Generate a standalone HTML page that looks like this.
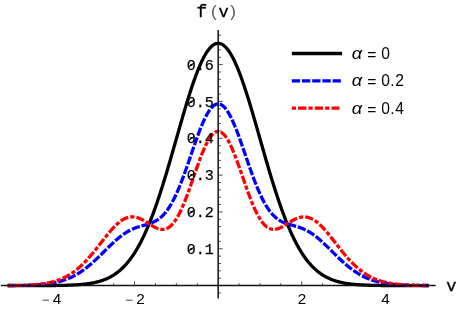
<!DOCTYPE html>
<html><head><meta charset="utf-8"><title>f(v)</title>
<style>
html,body{margin:0;padding:0;background:#fff;}
svg{display:block;will-change:transform;}
.mono{font-family:"Liberation Mono",monospace;font-size:15px;fill:#000;stroke:#000;stroke-width:0.25px;}
.sans{font-family:"Liberation Sans",sans-serif;font-size:15.3px;fill:#000;}
.leg{font-family:"Liberation Sans",sans-serif;font-size:15.6px;fill:#000;}
.title{font-family:"Liberation Mono",monospace;font-size:17px;fill:#000;stroke:#000;stroke-width:0.3px;}
.paren{font-family:"Liberation Sans",sans-serif;font-size:17px;fill:#555;}
</style></head>
<body>
<svg width="457" height="310" viewBox="0 0 457 310">
<rect width="457" height="310" fill="#fff"/>
<g fill="none" stroke-width="3.3" stroke-linejoin="round">
<path stroke="#000" d="M7.68,285.60 L8.21,285.60 L8.73,285.60 L9.26,285.60 L9.79,285.60 L10.31,285.60 L10.84,285.60 L11.36,285.60 L11.89,285.60 L12.42,285.60 L12.94,285.60 L13.47,285.60 L14.00,285.60 L14.52,285.60 L15.05,285.60 L15.58,285.60 L16.10,285.60 L16.63,285.60 L17.15,285.60 L17.68,285.60 L18.21,285.60 L18.73,285.60 L19.26,285.60 L19.79,285.60 L20.31,285.60 L20.84,285.60 L21.37,285.60 L21.89,285.60 L22.42,285.60 L22.94,285.60 L23.47,285.60 L24.00,285.60 L24.52,285.59 L25.05,285.59 L25.58,285.59 L26.10,285.59 L26.63,285.59 L27.16,285.59 L27.68,285.59 L28.21,285.59 L28.74,285.59 L29.26,285.59 L29.79,285.59 L30.31,285.59 L30.84,285.59 L31.37,285.59 L31.89,285.59 L32.42,285.59 L32.95,285.59 L33.47,285.59 L34.00,285.59 L34.53,285.58 L35.05,285.58 L35.58,285.58 L36.10,285.58 L36.63,285.58 L37.16,285.58 L37.68,285.58 L38.21,285.58 L38.74,285.58 L39.26,285.57 L39.79,285.57 L40.32,285.57 L40.84,285.57 L41.37,285.57 L41.89,285.57 L42.42,285.57 L42.95,285.56 L43.47,285.56 L44.00,285.56 L44.53,285.56 L45.05,285.55 L45.58,285.55 L46.11,285.55 L46.63,285.55 L47.16,285.54 L47.68,285.54 L48.21,285.54 L48.74,285.54 L49.26,285.53 L49.79,285.53 L50.32,285.52 L50.84,285.52 L51.37,285.52 L51.90,285.51 L52.42,285.51 L52.95,285.50 L53.47,285.50 L54.00,285.49 L54.53,285.49 L55.05,285.48 L55.58,285.48 L56.11,285.47 L56.63,285.46 L57.16,285.46 L57.69,285.45 L58.21,285.44 L58.74,285.43 L59.26,285.43 L59.79,285.42 L60.32,285.41 L60.84,285.40 L61.37,285.39 L61.90,285.38 L62.42,285.37 L62.95,285.36 L63.48,285.34 L64.00,285.33 L64.53,285.32 L65.05,285.31 L65.58,285.29 L66.11,285.28 L66.63,285.26 L67.16,285.25 L67.69,285.23 L68.21,285.21 L68.74,285.20 L69.27,285.18 L69.79,285.16 L70.32,285.14 L70.85,285.12 L71.37,285.10 L71.90,285.07 L72.42,285.05 L72.95,285.02 L73.48,285.00 L74.00,284.97 L74.53,284.94 L75.06,284.91 L75.58,284.88 L76.11,284.85 L76.64,284.82 L77.16,284.79 L77.69,284.75 L78.21,284.71 L78.74,284.68 L79.27,284.64 L79.79,284.60 L80.32,284.55 L80.85,284.51 L81.37,284.46 L81.90,284.41 L82.43,284.37 L82.95,284.31 L83.48,284.26 L84.00,284.20 L84.53,284.15 L85.06,284.09 L85.58,284.03 L86.11,283.96 L86.64,283.90 L87.16,283.83 L87.69,283.75 L88.22,283.68 L88.74,283.60 L89.27,283.53 L89.79,283.44 L90.32,283.36 L90.85,283.27 L91.37,283.18 L91.90,283.09 L92.43,282.99 L92.95,282.89 L93.48,282.78 L94.01,282.68 L94.53,282.56 L95.06,282.45 L95.58,282.33 L96.11,282.21 L96.64,282.08 L97.16,281.95 L97.69,281.81 L98.22,281.67 L98.74,281.53 L99.27,281.38 L99.80,281.23 L100.32,281.07 L100.85,280.90 L101.37,280.74 L101.90,280.56 L102.43,280.38 L102.95,280.20 L103.48,280.01 L104.01,279.81 L104.53,279.61 L105.06,279.40 L105.59,279.19 L106.11,278.96 L106.64,278.74 L107.16,278.50 L107.69,278.26 L108.22,278.01 L108.74,277.76 L109.27,277.50 L109.80,277.23 L110.32,276.95 L110.85,276.66 L111.38,276.37 L111.90,276.07 L112.43,275.76 L112.96,275.44 L113.48,275.11 L114.01,274.78 L114.53,274.43 L115.06,274.08 L115.59,273.72 L116.11,273.34 L116.64,272.96 L117.17,272.57 L117.69,272.17 L118.22,271.76 L118.75,271.33 L119.27,270.90 L119.80,270.46 L120.32,270.00 L120.85,269.54 L121.38,269.06 L121.90,268.57 L122.43,268.07 L122.96,267.56 L123.48,267.03 L124.01,266.50 L124.54,265.95 L125.06,265.39 L125.59,264.81 L126.11,264.23 L126.64,263.63 L127.17,263.02 L127.69,262.39 L128.22,261.75 L128.75,261.09 L129.27,260.43 L129.80,259.74 L130.33,259.05 L130.85,258.34 L131.38,257.61 L131.90,256.87 L132.43,256.12 L132.96,255.35 L133.48,254.56 L134.01,253.76 L134.54,252.95 L135.06,252.12 L135.59,251.27 L136.12,250.40 L136.64,249.53 L137.17,248.63 L137.69,247.72 L138.22,246.79 L138.75,245.85 L139.27,244.89 L139.80,243.91 L140.33,242.92 L140.85,241.91 L141.38,240.88 L141.91,239.84 L142.43,238.77 L142.96,237.70 L143.48,236.60 L144.01,235.49 L144.54,234.36 L145.06,233.21 L145.59,232.05 L146.12,230.87 L146.64,229.67 L147.17,228.46 L147.70,227.22 L148.22,225.97 L148.75,224.71 L149.27,223.42 L149.80,222.12 L150.33,220.81 L150.85,219.47 L151.38,218.12 L151.91,216.75 L152.43,215.37 L152.96,213.97 L153.49,212.55 L154.01,211.12 L154.54,209.67 L155.07,208.20 L155.59,206.72 L156.12,205.23 L156.64,203.72 L157.17,202.19 L157.70,200.65 L158.22,199.09 L158.75,197.52 L159.28,195.93 L159.80,194.33 L160.33,192.72 L160.86,191.09 L161.38,189.45 L161.91,187.80 L162.43,186.13 L162.96,184.46 L163.49,182.77 L164.01,181.06 L164.54,179.35 L165.07,177.63 L165.59,175.89 L166.12,174.15 L166.65,172.39 L167.17,170.63 L167.70,168.86 L168.22,167.07 L168.75,165.28 L169.28,163.49 L169.80,161.68 L170.33,159.87 L170.86,158.06 L171.38,156.23 L171.91,154.40 L172.44,152.57 L172.96,150.73 L173.49,148.89 L174.01,147.05 L174.54,145.20 L175.07,143.35 L175.59,141.51 L176.12,139.65 L176.65,137.80 L177.17,135.95 L177.70,134.10 L178.23,132.25 L178.75,130.41 L179.28,128.56 L179.80,126.72 L180.33,124.89 L180.86,123.05 L181.38,121.23 L181.91,119.41 L182.44,117.59 L182.96,115.79 L183.49,113.99 L184.02,112.20 L184.54,110.41 L185.07,108.64 L185.59,106.88 L186.12,105.13 L186.65,103.39 L187.17,101.67 L187.70,99.95 L188.23,98.25 L188.75,96.57 L189.28,94.90 L189.81,93.24 L190.33,91.61 L190.86,89.99 L191.38,88.38 L191.91,86.80 L192.44,85.23 L192.96,83.69 L193.49,82.16 L194.02,80.66 L194.54,79.18 L195.07,77.72 L195.60,76.28 L196.12,74.87 L196.65,73.48 L197.18,72.11 L197.70,70.77 L198.23,69.46 L198.75,68.17 L199.28,66.91 L199.81,65.68 L200.33,64.48 L200.86,63.30 L201.39,62.15 L201.91,61.04 L202.44,59.95 L202.97,58.89 L203.49,57.87 L204.02,56.88 L204.54,55.92 L205.07,54.99 L205.60,54.09 L206.12,53.23 L206.65,52.40 L207.18,51.61 L207.70,50.85 L208.23,50.13 L208.76,49.44 L209.28,48.79 L209.81,48.17 L210.33,47.59 L210.86,47.04 L211.39,46.53 L211.91,46.06 L212.44,45.63 L212.97,45.23 L213.49,44.87 L214.02,44.55 L214.55,44.27 L215.07,44.02 L215.60,43.81 L216.12,43.65 L216.65,43.51 L217.18,43.42 L217.70,43.37 L218.23,43.35 L218.76,43.38 L219.28,43.44 L219.81,43.54 L220.34,43.67 L220.86,43.85 L221.39,44.07 L221.91,44.32 L222.44,44.61 L222.97,44.94 L223.49,45.30 L224.02,45.71 L224.55,46.15 L225.07,46.63 L225.60,47.14 L226.13,47.69 L226.65,48.28 L227.18,48.91 L227.70,49.57 L228.23,50.26 L228.76,50.99 L229.28,51.76 L229.81,52.56 L230.34,53.39 L230.86,54.26 L231.39,55.16 L231.92,56.10 L232.44,57.06 L232.97,58.06 L233.49,59.09 L234.02,60.15 L234.55,61.25 L235.07,62.37 L235.60,63.52 L236.13,64.70 L236.65,65.91 L237.18,67.15 L237.71,68.41 L238.23,69.71 L238.76,71.03 L239.29,72.37 L239.81,73.74 L240.34,75.13 L240.86,76.55 L241.39,77.99 L241.92,79.46 L242.44,80.94 L242.97,82.45 L243.50,83.98 L244.02,85.53 L244.55,87.10 L245.08,88.69 L245.60,90.29 L246.13,91.92 L246.65,93.56 L247.18,95.21 L247.71,96.89 L248.23,98.57 L248.76,100.28 L249.29,101.99 L249.81,103.72 L250.34,105.46 L250.87,107.21 L251.39,108.98 L251.92,110.75 L252.44,112.54 L252.97,114.33 L253.50,116.13 L254.02,117.94 L254.55,119.75 L255.08,121.57 L255.60,123.40 L256.13,125.24 L256.66,127.07 L257.18,128.91 L257.71,130.76 L258.23,132.60 L258.76,134.45 L259.29,136.30 L259.81,138.15 L260.34,140.01 L260.87,141.86 L261.39,143.71 L261.92,145.55 L262.45,147.40 L262.97,149.24 L263.50,151.08 L264.02,152.92 L264.55,154.75 L265.08,156.58 L265.60,158.40 L266.13,160.22 L266.66,162.03 L267.18,163.83 L267.71,165.63 L268.24,167.41 L268.76,169.19 L269.29,170.96 L269.81,172.73 L270.34,174.48 L270.87,176.22 L271.39,177.95 L271.92,179.68 L272.45,181.39 L272.97,183.09 L273.50,184.77 L274.03,186.45 L274.55,188.11 L275.08,189.76 L275.60,191.40 L276.13,193.03 L276.66,194.64 L277.18,196.24 L277.71,197.82 L278.24,199.39 L278.76,200.94 L279.29,202.48 L279.82,204.00 L280.34,205.51 L280.87,207.01 L281.40,208.48 L281.92,209.95 L282.45,211.39 L282.97,212.82 L283.50,214.24 L284.03,215.63 L284.55,217.01 L285.08,218.38 L285.61,219.73 L286.13,221.06 L286.66,222.37 L287.19,223.67 L287.71,224.95 L288.24,226.21 L288.76,227.46 L289.29,228.69 L289.82,229.90 L290.34,231.09 L290.87,232.27 L291.40,233.43 L291.92,234.58 L292.45,235.70 L292.98,236.81 L293.50,237.90 L294.03,238.98 L294.55,240.03 L295.08,241.08 L295.61,242.10 L296.13,243.11 L296.66,244.10 L297.19,245.07 L297.71,246.03 L298.24,246.97 L298.77,247.89 L299.29,248.80 L299.82,249.69 L300.34,250.57 L300.87,251.43 L301.40,252.27 L301.92,253.10 L302.45,253.92 L302.98,254.71 L303.50,255.50 L304.03,256.26 L304.56,257.01 L305.08,257.75 L305.61,258.47 L306.13,259.18 L306.66,259.88 L307.19,260.55 L307.71,261.22 L308.24,261.87 L308.77,262.51 L309.29,263.13 L309.82,263.74 L310.35,264.34 L310.87,264.93 L311.40,265.50 L311.92,266.06 L312.45,266.60 L312.98,267.14 L313.50,267.66 L314.03,268.17 L314.56,268.67 L315.08,269.15 L315.61,269.63 L316.14,270.09 L316.66,270.54 L317.19,270.98 L317.71,271.42 L318.24,271.84 L318.77,272.25 L319.29,272.65 L319.82,273.04 L320.35,273.42 L320.87,273.79 L321.40,274.15 L321.93,274.50 L322.45,274.84 L322.98,275.18 L323.51,275.50 L324.03,275.82 L324.56,276.13 L325.08,276.43 L325.61,276.72 L326.14,277.00 L326.66,277.28 L327.19,277.55 L327.72,277.81 L328.24,278.06 L328.77,278.31 L329.30,278.55 L329.82,278.78 L330.35,279.01 L330.87,279.23 L331.40,279.44 L331.93,279.65 L332.45,279.85 L332.98,280.04 L333.51,280.23 L334.03,280.42 L334.56,280.60 L335.09,280.77 L335.61,280.94 L336.14,281.10 L336.66,281.26 L337.19,281.41 L337.72,281.56 L338.24,281.70 L338.77,281.84 L339.30,281.97 L339.82,282.10 L340.35,282.23 L340.88,282.35 L341.40,282.47 L341.93,282.59 L342.45,282.70 L342.98,282.80 L343.51,282.91 L344.03,283.01 L344.56,283.10 L345.09,283.20 L345.61,283.29 L346.14,283.37 L346.67,283.46 L347.19,283.54 L347.72,283.62 L348.24,283.70 L348.77,283.77 L349.30,283.84 L349.82,283.91 L350.35,283.97 L350.88,284.04 L351.40,284.10 L351.93,284.16 L352.46,284.22 L352.98,284.27 L353.51,284.32 L354.03,284.37 L354.56,284.42 L355.09,284.47 L355.61,284.52 L356.14,284.56 L356.67,284.60 L357.19,284.64 L357.72,284.68 L358.25,284.72 L358.77,284.76 L359.30,284.79 L359.82,284.83 L360.35,284.86 L360.88,284.89 L361.40,284.92 L361.93,284.95 L362.46,284.98 L362.98,285.00 L363.51,285.03 L364.04,285.05 L364.56,285.08 L365.09,285.10 L365.62,285.12 L366.14,285.14 L366.67,285.16 L367.19,285.18 L367.72,285.20 L368.25,285.22 L368.77,285.23 L369.30,285.25 L369.83,285.27 L370.35,285.28 L370.88,285.30 L371.41,285.31 L371.93,285.32 L372.46,285.33 L372.98,285.35 L373.51,285.36 L374.04,285.37 L374.56,285.38 L375.09,285.39 L375.62,285.40 L376.14,285.41 L376.67,285.42 L377.20,285.43 L377.72,285.43 L378.25,285.44 L378.77,285.45 L379.30,285.46 L379.83,285.46 L380.35,285.47 L380.88,285.48 L381.41,285.48 L381.93,285.49 L382.46,285.49 L382.99,285.50 L383.51,285.50 L384.04,285.51 L384.56,285.51 L385.09,285.52 L385.62,285.52 L386.14,285.53 L386.67,285.53 L387.20,285.53 L387.72,285.54 L388.25,285.54 L388.78,285.54 L389.30,285.54 L389.83,285.55 L390.35,285.55 L390.88,285.55 L391.41,285.56 L391.93,285.56 L392.46,285.56 L392.99,285.56 L393.51,285.56 L394.04,285.57 L394.57,285.57 L395.09,285.57 L395.62,285.57 L396.14,285.57 L396.67,285.57 L397.20,285.58 L397.72,285.58 L398.25,285.58 L398.78,285.58 L399.30,285.58 L399.83,285.58 L400.36,285.58 L400.88,285.58 L401.41,285.58 L401.93,285.58 L402.46,285.59 L402.99,285.59 L403.51,285.59 L404.04,285.59 L404.57,285.59 L405.09,285.59 L405.62,285.59 L406.15,285.59 L406.67,285.59 L407.20,285.59 L407.73,285.59 L408.25,285.59 L408.78,285.59 L409.30,285.59 L409.83,285.59 L410.36,285.59 L410.88,285.59 L411.41,285.59 L411.94,285.59 L412.46,285.60 L412.99,285.60 L413.52,285.60 L414.04,285.60 L414.57,285.60 L415.09,285.60 L415.62,285.60 L416.15,285.60 L416.67,285.60 L417.20,285.60 L417.73,285.60 L418.25,285.60 L418.78,285.60 L419.31,285.60 L419.83,285.60 L420.36,285.60 L420.88,285.60 L421.41,285.60 L421.94,285.60 L422.46,285.60 L422.99,285.60 L423.52,285.60 L424.04,285.60 L424.57,285.60 L425.10,285.60 L425.62,285.60 L426.15,285.60 L426.67,285.60 L427.20,285.60 L427.73,285.60 L428.25,285.60 L428.78,285.60"/>
<path stroke="#00f" stroke-dasharray="8.3 1.869" stroke-dashoffset="0" d="M7.68,285.54 L8.21,285.54 L8.73,285.54 L9.26,285.53 L9.79,285.53 L10.31,285.53 L10.84,285.52 L11.36,285.52 L11.89,285.52 L12.42,285.51 L12.94,285.51 L13.47,285.50 L14.00,285.50 L14.52,285.49 L15.05,285.48 L15.58,285.48 L16.10,285.47 L16.63,285.47 L17.15,285.46 L17.68,285.45 L18.21,285.44 L18.73,285.44 L19.26,285.43 L19.79,285.42 L20.31,285.41 L20.84,285.40 L21.37,285.39 L21.89,285.38 L22.42,285.37 L22.94,285.36 L23.47,285.35 L24.00,285.33 L24.52,285.32 L25.05,285.31 L25.58,285.29 L26.10,285.28 L26.63,285.26 L27.16,285.25 L27.68,285.23 L28.21,285.22 L28.74,285.20 L29.26,285.18 L29.79,285.16 L30.31,285.14 L30.84,285.12 L31.37,285.10 L31.89,285.07 L32.42,285.05 L32.95,285.02 L33.47,285.00 L34.00,284.97 L34.53,284.94 L35.05,284.91 L35.58,284.88 L36.10,284.85 L36.63,284.82 L37.16,284.79 L37.68,284.75 L38.21,284.71 L38.74,284.68 L39.26,284.64 L39.79,284.59 L40.32,284.55 L40.84,284.51 L41.37,284.46 L41.89,284.42 L42.42,284.37 L42.95,284.32 L43.47,284.26 L44.00,284.21 L44.53,284.15 L45.05,284.09 L45.58,284.03 L46.11,283.97 L46.63,283.90 L47.16,283.84 L47.68,283.77 L48.21,283.70 L48.74,283.62 L49.26,283.54 L49.79,283.47 L50.32,283.38 L50.84,283.30 L51.37,283.21 L51.90,283.12 L52.42,283.03 L52.95,282.93 L53.47,282.83 L54.00,282.73 L54.53,282.63 L55.05,282.52 L55.58,282.41 L56.11,282.29 L56.63,282.17 L57.16,282.05 L57.69,281.93 L58.21,281.80 L58.74,281.66 L59.26,281.53 L59.79,281.39 L60.32,281.24 L60.84,281.09 L61.37,280.94 L61.90,280.78 L62.42,280.62 L62.95,280.46 L63.48,280.29 L64.00,280.11 L64.53,279.93 L65.05,279.75 L65.58,279.56 L66.11,279.37 L66.63,279.17 L67.16,278.97 L67.69,278.76 L68.21,278.55 L68.74,278.33 L69.27,278.10 L69.79,277.88 L70.32,277.64 L70.85,277.40 L71.37,277.16 L71.90,276.91 L72.42,276.66 L72.95,276.39 L73.48,276.13 L74.00,275.86 L74.53,275.58 L75.06,275.30 L75.58,275.01 L76.11,274.71 L76.64,274.41 L77.16,274.11 L77.69,273.80 L78.21,273.48 L78.74,273.15 L79.27,272.82 L79.79,272.49 L80.32,272.15 L80.85,271.80 L81.37,271.45 L81.90,271.09 L82.43,270.73 L82.95,270.36 L83.48,269.98 L84.00,269.60 L84.53,269.21 L85.06,268.82 L85.58,268.42 L86.11,268.01 L86.64,267.61 L87.16,267.19 L87.69,266.77 L88.22,266.34 L88.74,265.91 L89.27,265.48 L89.79,265.04 L90.32,264.59 L90.85,264.14 L91.37,263.68 L91.90,263.22 L92.43,262.76 L92.95,262.29 L93.48,261.81 L94.01,261.34 L94.53,260.86 L95.06,260.37 L95.58,259.88 L96.11,259.39 L96.64,258.89 L97.16,258.39 L97.69,257.89 L98.22,257.39 L98.74,256.88 L99.27,256.37 L99.80,255.86 L100.32,255.34 L100.85,254.83 L101.37,254.31 L101.90,253.79 L102.43,253.27 L102.95,252.75 L103.48,252.23 L104.01,251.71 L104.53,251.19 L105.06,250.66 L105.59,250.14 L106.11,249.62 L106.64,249.10 L107.16,248.58 L107.69,248.06 L108.22,247.54 L108.74,247.03 L109.27,246.51 L109.80,246.00 L110.32,245.49 L110.85,244.99 L111.38,244.48 L111.90,243.98 L112.43,243.49 L112.96,243.00 L113.48,242.51 L114.01,242.02 L114.53,241.54 L115.06,241.07 L115.59,240.60 L116.11,240.13 L116.64,239.67 L117.17,239.22 L117.69,238.77 L118.22,238.33 L118.75,237.89 L119.27,237.46 L119.80,237.04 L120.32,236.62 L120.85,236.21 L121.38,235.81 L121.90,235.41 L122.43,235.03 L122.96,234.65 L123.48,234.27 L124.01,233.91 L124.54,233.55 L125.06,233.20 L125.59,232.86 L126.11,232.53 L126.64,232.20 L127.17,231.88 L127.69,231.57 L128.22,231.27 L128.75,230.98 L129.27,230.69 L129.80,230.42 L130.33,230.15 L130.85,229.88 L131.38,229.63 L131.90,229.38 L132.43,229.14 L132.96,228.91 L133.48,228.69 L134.01,228.47 L134.54,228.26 L135.06,228.06 L135.59,227.86 L136.12,227.67 L136.64,227.48 L137.17,227.30 L137.69,227.12 L138.22,226.95 L138.75,226.79 L139.27,226.62 L139.80,226.47 L140.33,226.31 L140.85,226.16 L141.38,226.01 L141.91,225.86 L142.43,225.72 L142.96,225.57 L143.48,225.43 L144.01,225.29 L144.54,225.14 L145.06,225.00 L145.59,224.85 L146.12,224.71 L146.64,224.56 L147.17,224.40 L147.70,224.25 L148.22,224.08 L148.75,223.92 L149.27,223.75 L149.80,223.57 L150.33,223.39 L150.85,223.20 L151.38,223.00 L151.91,222.79 L152.43,222.57 L152.96,222.34 L153.49,222.11 L154.01,221.86 L154.54,221.60 L155.07,221.33 L155.59,221.04 L156.12,220.74 L156.64,220.43 L157.17,220.10 L157.70,219.75 L158.22,219.39 L158.75,219.02 L159.28,218.62 L159.80,218.21 L160.33,217.78 L160.86,217.33 L161.38,216.86 L161.91,216.37 L162.43,215.86 L162.96,215.33 L163.49,214.78 L164.01,214.21 L164.54,213.61 L165.07,212.99 L165.59,212.35 L166.12,211.69 L166.65,211.00 L167.17,210.28 L167.70,209.55 L168.22,208.79 L168.75,208.00 L169.28,207.19 L169.80,206.35 L170.33,205.49 L170.86,204.61 L171.38,203.70 L171.91,202.76 L172.44,201.80 L172.96,200.81 L173.49,199.80 L174.01,198.77 L174.54,197.71 L175.07,196.62 L175.59,195.51 L176.12,194.38 L176.65,193.22 L177.17,192.05 L177.70,190.84 L178.23,189.62 L178.75,188.37 L179.28,187.10 L179.80,185.82 L180.33,184.51 L180.86,183.18 L181.38,181.83 L181.91,180.47 L182.44,179.09 L182.96,177.69 L183.49,176.27 L184.02,174.84 L184.54,173.40 L185.07,171.94 L185.59,170.47 L186.12,168.99 L186.65,167.50 L187.17,166.00 L187.70,164.49 L188.23,162.98 L188.75,161.45 L189.28,159.93 L189.81,158.40 L190.33,156.87 L190.86,155.33 L191.38,153.80 L191.91,152.26 L192.44,150.73 L192.96,149.20 L193.49,147.68 L194.02,146.17 L194.54,144.66 L195.07,143.16 L195.60,141.67 L196.12,140.19 L196.65,138.72 L197.18,137.27 L197.70,135.83 L198.23,134.41 L198.75,133.01 L199.28,131.63 L199.81,130.26 L200.33,128.92 L200.86,127.61 L201.39,126.31 L201.91,125.04 L202.44,123.80 L202.97,122.59 L203.49,121.40 L204.02,120.25 L204.54,119.13 L205.07,118.04 L205.60,116.98 L206.12,115.96 L206.65,114.97 L207.18,114.03 L207.70,113.11 L208.23,112.24 L208.76,111.41 L209.28,110.61 L209.81,109.86 L210.33,109.15 L210.86,108.48 L211.39,107.86 L211.91,107.28 L212.44,106.74 L212.97,106.25 L213.49,105.81 L214.02,105.41 L214.55,105.06 L215.07,104.75 L215.60,104.49 L216.12,104.28 L216.65,104.12 L217.18,104.00 L217.70,103.93 L218.23,103.91 L218.76,103.94 L219.28,104.02 L219.81,104.14 L220.34,104.32 L220.86,104.54 L221.39,104.80 L221.91,105.12 L222.44,105.48 L222.97,105.89 L223.49,106.34 L224.02,106.84 L224.55,107.39 L225.07,107.97 L225.60,108.61 L226.13,109.28 L226.65,110.00 L227.18,110.76 L227.70,111.56 L228.23,112.40 L228.76,113.28 L229.28,114.20 L229.81,115.16 L230.34,116.15 L230.86,117.18 L231.39,118.24 L231.92,119.34 L232.44,120.47 L232.97,121.63 L233.49,122.82 L234.02,124.04 L234.55,125.28 L235.07,126.56 L235.60,127.85 L236.13,129.18 L236.65,130.52 L237.18,131.89 L237.71,133.28 L238.23,134.68 L238.76,136.10 L239.29,137.54 L239.81,139.00 L240.34,140.47 L240.86,141.95 L241.39,143.44 L241.92,144.94 L242.44,146.45 L242.97,147.97 L243.50,149.49 L244.02,151.02 L244.55,152.55 L245.08,154.09 L245.60,155.62 L246.13,157.16 L246.65,158.69 L247.18,160.22 L247.71,161.74 L248.23,163.26 L248.76,164.78 L249.29,166.29 L249.81,167.78 L250.34,169.27 L250.87,170.75 L251.39,172.22 L251.92,173.67 L252.44,175.12 L252.97,176.54 L253.50,177.95 L254.02,179.35 L254.55,180.73 L255.08,182.09 L255.60,183.43 L256.13,184.76 L256.66,186.06 L257.18,187.35 L257.71,188.61 L258.23,189.85 L258.76,191.07 L259.29,192.27 L259.81,193.45 L260.34,194.60 L260.87,195.73 L261.39,196.83 L261.92,197.91 L262.45,198.97 L262.97,200.00 L263.50,201.00 L264.02,201.98 L264.55,202.94 L265.08,203.87 L265.60,204.78 L266.13,205.66 L266.66,206.51 L267.18,207.35 L267.71,208.15 L268.24,208.93 L268.76,209.69 L269.29,210.42 L269.81,211.13 L270.34,211.81 L270.87,212.47 L271.39,213.11 L271.92,213.73 L272.45,214.32 L272.97,214.89 L273.50,215.44 L274.03,215.96 L274.55,216.47 L275.08,216.95 L275.60,217.42 L276.13,217.86 L276.66,218.29 L277.18,218.70 L277.71,219.09 L278.24,219.46 L278.76,219.82 L279.29,220.16 L279.82,220.49 L280.34,220.80 L280.87,221.10 L281.40,221.38 L281.92,221.65 L282.45,221.91 L282.97,222.15 L283.50,222.39 L284.03,222.61 L284.55,222.83 L285.08,223.03 L285.61,223.23 L286.13,223.42 L286.66,223.60 L287.19,223.78 L287.71,223.95 L288.24,224.12 L288.76,224.28 L289.29,224.43 L289.82,224.58 L290.34,224.73 L290.87,224.88 L291.40,225.03 L291.92,225.17 L292.45,225.31 L292.98,225.46 L293.50,225.60 L294.03,225.75 L294.55,225.89 L295.08,226.04 L295.61,226.19 L296.13,226.34 L296.66,226.50 L297.19,226.65 L297.71,226.82 L298.24,226.98 L298.77,227.16 L299.29,227.33 L299.82,227.51 L300.34,227.70 L300.87,227.89 L301.40,228.09 L301.92,228.30 L302.45,228.51 L302.98,228.73 L303.50,228.96 L304.03,229.19 L304.56,229.43 L305.08,229.68 L305.61,229.93 L306.13,230.20 L306.66,230.47 L307.19,230.75 L307.71,231.03 L308.24,231.33 L308.77,231.63 L309.29,231.94 L309.82,232.26 L310.35,232.59 L310.87,232.92 L311.40,233.27 L311.92,233.62 L312.45,233.98 L312.98,234.34 L313.50,234.72 L314.03,235.10 L314.56,235.49 L315.08,235.89 L315.61,236.29 L316.14,236.70 L316.66,237.12 L317.19,237.54 L317.71,237.97 L318.24,238.41 L318.77,238.85 L319.29,239.30 L319.82,239.76 L320.35,240.22 L320.87,240.69 L321.40,241.16 L321.93,241.63 L322.45,242.11 L322.98,242.60 L323.51,243.09 L324.03,243.58 L324.56,244.08 L325.08,244.58 L325.61,245.08 L326.14,245.59 L326.66,246.10 L327.19,246.61 L327.72,247.12 L328.24,247.64 L328.77,248.16 L329.30,248.68 L329.82,249.20 L330.35,249.72 L330.87,250.24 L331.40,250.76 L331.93,251.28 L332.45,251.81 L332.98,252.33 L333.51,252.85 L334.03,253.37 L334.56,253.89 L335.09,254.41 L335.61,254.93 L336.14,255.44 L336.66,255.96 L337.19,256.47 L337.72,256.98 L338.24,257.48 L338.77,257.99 L339.30,258.49 L339.82,258.99 L340.35,259.48 L340.88,259.97 L341.40,260.46 L341.93,260.95 L342.45,261.43 L342.98,261.91 L343.51,262.38 L344.03,262.85 L344.56,263.31 L345.09,263.77 L345.61,264.22 L346.14,264.67 L346.67,265.12 L347.19,265.56 L347.72,265.99 L348.24,266.42 L348.77,266.85 L349.30,267.27 L349.82,267.68 L350.35,268.09 L350.88,268.50 L351.40,268.89 L351.93,269.28 L352.46,269.67 L352.98,270.05 L353.51,270.43 L354.03,270.80 L354.56,271.16 L355.09,271.52 L355.61,271.87 L356.14,272.21 L356.67,272.55 L357.19,272.89 L357.72,273.22 L358.25,273.54 L358.77,273.86 L359.30,274.17 L359.82,274.47 L360.35,274.77 L360.88,275.06 L361.40,275.35 L361.93,275.63 L362.46,275.91 L362.98,276.18 L363.51,276.44 L364.04,276.70 L364.56,276.96 L365.09,277.21 L365.62,277.45 L366.14,277.69 L366.67,277.92 L367.19,278.15 L367.72,278.37 L368.25,278.59 L368.77,278.80 L369.30,279.00 L369.83,279.21 L370.35,279.40 L370.88,279.60 L371.41,279.78 L371.93,279.97 L372.46,280.14 L372.98,280.32 L373.51,280.49 L374.04,280.65 L374.56,280.81 L375.09,280.97 L375.62,281.12 L376.14,281.27 L376.67,281.41 L377.20,281.55 L377.72,281.69 L378.25,281.82 L378.77,281.95 L379.30,282.07 L379.83,282.20 L380.35,282.31 L380.88,282.43 L381.41,282.54 L381.93,282.65 L382.46,282.75 L382.99,282.85 L383.51,282.95 L384.04,283.05 L384.56,283.14 L385.09,283.23 L385.62,283.32 L386.14,283.40 L386.67,283.48 L387.20,283.56 L387.72,283.64 L388.25,283.71 L388.78,283.78 L389.30,283.85 L389.83,283.92 L390.35,283.98 L390.88,284.04 L391.41,284.10 L391.93,284.16 L392.46,284.22 L392.99,284.27 L393.51,284.32 L394.04,284.38 L394.57,284.42 L395.09,284.47 L395.62,284.52 L396.14,284.56 L396.67,284.60 L397.20,284.64 L397.72,284.68 L398.25,284.72 L398.78,284.76 L399.30,284.79 L399.83,284.83 L400.36,284.86 L400.88,284.89 L401.41,284.92 L401.93,284.95 L402.46,284.98 L402.99,285.00 L403.51,285.03 L404.04,285.05 L404.57,285.08 L405.09,285.10 L405.62,285.12 L406.15,285.14 L406.67,285.16 L407.20,285.18 L407.73,285.20 L408.25,285.22 L408.78,285.24 L409.30,285.25 L409.83,285.27 L410.36,285.28 L410.88,285.30 L411.41,285.31 L411.94,285.32 L412.46,285.34 L412.99,285.35 L413.52,285.36 L414.04,285.37 L414.57,285.38 L415.09,285.39 L415.62,285.40 L416.15,285.41 L416.67,285.42 L417.20,285.43 L417.73,285.44 L418.25,285.45 L418.78,285.45 L419.31,285.46 L419.83,285.47 L420.36,285.47 L420.88,285.48 L421.41,285.49 L421.94,285.49 L422.46,285.50 L422.99,285.50 L423.52,285.51 L424.04,285.51 L424.57,285.52 L425.10,285.52 L425.62,285.52 L426.15,285.53 L426.67,285.53 L427.20,285.54 L427.73,285.54 L428.25,285.54 L428.78,285.54"/>
<path stroke="#f00" stroke-dasharray="4.2 2.0 8.3 2.01" stroke-dashoffset="0" d="M7.68,285.52 L8.21,285.51 L8.73,285.51 L9.26,285.51 L9.79,285.50 L10.31,285.49 L10.84,285.49 L11.36,285.48 L11.89,285.48 L12.42,285.47 L12.94,285.46 L13.47,285.46 L14.00,285.45 L14.52,285.44 L15.05,285.43 L15.58,285.42 L16.10,285.42 L16.63,285.41 L17.15,285.40 L17.68,285.39 L18.21,285.37 L18.73,285.36 L19.26,285.35 L19.79,285.34 L20.31,285.33 L20.84,285.31 L21.37,285.30 L21.89,285.28 L22.42,285.27 L22.94,285.25 L23.47,285.23 L24.00,285.22 L24.52,285.20 L25.05,285.18 L25.58,285.16 L26.10,285.14 L26.63,285.12 L27.16,285.09 L27.68,285.07 L28.21,285.04 L28.74,285.02 L29.26,284.99 L29.79,284.96 L30.31,284.93 L30.84,284.90 L31.37,284.87 L31.89,284.84 L32.42,284.80 L32.95,284.77 L33.47,284.73 L34.00,284.69 L34.53,284.65 L35.05,284.61 L35.58,284.57 L36.10,284.52 L36.63,284.47 L37.16,284.42 L37.68,284.37 L38.21,284.32 L38.74,284.27 L39.26,284.21 L39.79,284.15 L40.32,284.09 L40.84,284.03 L41.37,283.96 L41.89,283.89 L42.42,283.82 L42.95,283.75 L43.47,283.67 L44.00,283.59 L44.53,283.51 L45.05,283.43 L45.58,283.34 L46.11,283.25 L46.63,283.16 L47.16,283.06 L47.68,282.96 L48.21,282.86 L48.74,282.75 L49.26,282.64 L49.79,282.53 L50.32,282.41 L50.84,282.29 L51.37,282.16 L51.90,282.04 L52.42,281.90 L52.95,281.77 L53.47,281.62 L54.00,281.48 L54.53,281.33 L55.05,281.17 L55.58,281.01 L56.11,280.85 L56.63,280.68 L57.16,280.50 L57.69,280.32 L58.21,280.14 L58.74,279.95 L59.26,279.75 L59.79,279.55 L60.32,279.35 L60.84,279.14 L61.37,278.92 L61.90,278.69 L62.42,278.46 L62.95,278.23 L63.48,277.99 L64.00,277.74 L64.53,277.48 L65.05,277.22 L65.58,276.95 L66.11,276.68 L66.63,276.40 L67.16,276.11 L67.69,275.82 L68.21,275.51 L68.74,275.21 L69.27,274.89 L69.79,274.57 L70.32,274.24 L70.85,273.90 L71.37,273.55 L71.90,273.20 L72.42,272.84 L72.95,272.47 L73.48,272.10 L74.00,271.71 L74.53,271.32 L75.06,270.92 L75.58,270.52 L76.11,270.10 L76.64,269.68 L77.16,269.25 L77.69,268.82 L78.21,268.37 L78.74,267.92 L79.27,267.46 L79.79,266.99 L80.32,266.51 L80.85,266.03 L81.37,265.53 L81.90,265.03 L82.43,264.53 L82.95,264.01 L83.48,263.49 L84.00,262.96 L84.53,262.42 L85.06,261.88 L85.58,261.33 L86.11,260.77 L86.64,260.20 L87.16,259.63 L87.69,259.05 L88.22,258.46 L88.74,257.87 L89.27,257.27 L89.79,256.67 L90.32,256.06 L90.85,255.44 L91.37,254.82 L91.90,254.19 L92.43,253.56 L92.95,252.93 L93.48,252.28 L94.01,251.64 L94.53,250.99 L95.06,250.33 L95.58,249.68 L96.11,249.02 L96.64,248.35 L97.16,247.69 L97.69,247.02 L98.22,246.35 L98.74,245.68 L99.27,245.00 L99.80,244.33 L100.32,243.65 L100.85,242.98 L101.37,242.30 L101.90,241.62 L102.43,240.95 L102.95,240.28 L103.48,239.60 L104.01,238.93 L104.53,238.27 L105.06,237.60 L105.59,236.94 L106.11,236.28 L106.64,235.63 L107.16,234.98 L107.69,234.33 L108.22,233.69 L108.74,233.06 L109.27,232.43 L109.80,231.81 L110.32,231.20 L110.85,230.59 L111.38,229.99 L111.90,229.40 L112.43,228.82 L112.96,228.25 L113.48,227.69 L114.01,227.13 L114.53,226.59 L115.06,226.06 L115.59,225.54 L116.11,225.03 L116.64,224.54 L117.17,224.06 L117.69,223.59 L118.22,223.13 L118.75,222.69 L119.27,222.26 L119.80,221.85 L120.32,221.45 L120.85,221.06 L121.38,220.70 L121.90,220.34 L122.43,220.01 L122.96,219.69 L123.48,219.38 L124.01,219.09 L124.54,218.82 L125.06,218.57 L125.59,218.33 L126.11,218.12 L126.64,217.91 L127.17,217.73 L127.69,217.57 L128.22,217.42 L128.75,217.29 L129.27,217.18 L129.80,217.08 L130.33,217.01 L130.85,216.95 L131.38,216.91 L131.90,216.89 L132.43,216.88 L132.96,216.90 L133.48,216.93 L134.01,216.97 L134.54,217.04 L135.06,217.12 L135.59,217.22 L136.12,217.33 L136.64,217.46 L137.17,217.60 L137.69,217.76 L138.22,217.93 L138.75,218.12 L139.27,218.32 L139.80,218.54 L140.33,218.76 L140.85,219.00 L141.38,219.25 L141.91,219.51 L142.43,219.78 L142.96,220.06 L143.48,220.35 L144.01,220.65 L144.54,220.95 L145.06,221.27 L145.59,221.58 L146.12,221.90 L146.64,222.23 L147.17,222.56 L147.70,222.89 L148.22,223.23 L148.75,223.56 L149.27,223.90 L149.80,224.23 L150.33,224.56 L150.85,224.89 L151.38,225.21 L151.91,225.53 L152.43,225.85 L152.96,226.15 L153.49,226.45 L154.01,226.74 L154.54,227.02 L155.07,227.29 L155.59,227.55 L156.12,227.79 L156.64,228.02 L157.17,228.24 L157.70,228.44 L158.22,228.62 L158.75,228.79 L159.28,228.94 L159.80,229.07 L160.33,229.17 L160.86,229.26 L161.38,229.32 L161.91,229.36 L162.43,229.38 L162.96,229.37 L163.49,229.33 L164.01,229.27 L164.54,229.18 L165.07,229.07 L165.59,228.92 L166.12,228.75 L166.65,228.54 L167.17,228.31 L167.70,228.04 L168.22,227.75 L168.75,227.42 L169.28,227.05 L169.80,226.66 L170.33,226.23 L170.86,225.77 L171.38,225.27 L171.91,224.74 L172.44,224.18 L172.96,223.58 L173.49,222.94 L174.01,222.28 L174.54,221.57 L175.07,220.83 L175.59,220.06 L176.12,219.26 L176.65,218.42 L177.17,217.54 L177.70,216.63 L178.23,215.69 L178.75,214.72 L179.28,213.71 L179.80,212.68 L180.33,211.61 L180.86,210.51 L181.38,209.38 L181.91,208.22 L182.44,207.04 L182.96,205.82 L183.49,204.58 L184.02,203.32 L184.54,202.03 L185.07,200.71 L185.59,199.38 L186.12,198.02 L186.65,196.64 L187.17,195.24 L187.70,193.83 L188.23,192.40 L188.75,190.95 L189.28,189.49 L189.81,188.01 L190.33,186.53 L190.86,185.03 L191.38,183.53 L191.91,182.02 L192.44,180.50 L192.96,178.99 L193.49,177.46 L194.02,175.94 L194.54,174.42 L195.07,172.90 L195.60,171.39 L196.12,169.88 L196.65,168.38 L197.18,166.89 L197.70,165.41 L198.23,163.94 L198.75,162.48 L199.28,161.04 L199.81,159.62 L200.33,158.22 L200.86,156.84 L201.39,155.47 L201.91,154.14 L202.44,152.83 L202.97,151.54 L203.49,150.28 L204.02,149.06 L204.54,147.86 L205.07,146.70 L205.60,145.57 L206.12,144.47 L206.65,143.42 L207.18,142.40 L207.70,141.41 L208.23,140.47 L208.76,139.57 L209.28,138.72 L209.81,137.90 L210.33,137.14 L210.86,136.41 L211.39,135.73 L211.91,135.10 L212.44,134.52 L212.97,133.99 L213.49,133.50 L214.02,133.07 L214.55,132.69 L215.07,132.35 L215.60,132.07 L216.12,131.84 L216.65,131.66 L217.18,131.54 L217.70,131.46 L218.23,131.44 L218.76,131.47 L219.28,131.56 L219.81,131.69 L220.34,131.88 L220.86,132.12 L221.39,132.41 L221.91,132.76 L222.44,133.15 L222.97,133.59 L223.49,134.09 L224.02,134.63 L224.55,135.22 L225.07,135.86 L225.60,136.55 L226.13,137.28 L226.65,138.06 L227.18,138.88 L227.70,139.74 L228.23,140.65 L228.76,141.60 L229.28,142.59 L229.81,143.61 L230.34,144.68 L230.86,145.78 L231.39,146.92 L231.92,148.09 L232.44,149.29 L232.97,150.52 L233.49,151.78 L234.02,153.07 L234.55,154.39 L235.07,155.73 L235.60,157.10 L236.13,158.48 L236.65,159.89 L237.18,161.31 L237.71,162.76 L238.23,164.21 L238.76,165.69 L239.29,167.17 L239.81,168.66 L240.34,170.17 L240.86,171.68 L241.39,173.19 L241.92,174.71 L242.44,176.23 L242.97,177.75 L243.50,179.27 L244.02,180.79 L244.55,182.31 L245.08,183.82 L245.60,185.32 L246.13,186.81 L246.65,188.29 L247.18,189.77 L247.71,191.22 L248.23,192.67 L248.76,194.10 L249.29,195.51 L249.81,196.90 L250.34,198.28 L250.87,199.63 L251.39,200.97 L251.92,202.28 L252.44,203.56 L252.97,204.82 L253.50,206.06 L254.02,207.27 L254.55,208.45 L255.08,209.60 L255.60,210.72 L256.13,211.81 L256.66,212.88 L257.18,213.91 L257.71,214.91 L258.23,215.87 L258.76,216.81 L259.29,217.71 L259.81,218.58 L260.34,219.41 L260.87,220.21 L261.39,220.98 L261.92,221.71 L262.45,222.40 L262.97,223.07 L263.50,223.69 L264.02,224.29 L264.55,224.84 L265.08,225.37 L265.60,225.86 L266.13,226.31 L266.66,226.74 L267.18,227.13 L267.71,227.48 L268.24,227.81 L268.76,228.10 L269.29,228.36 L269.81,228.59 L270.34,228.78 L270.87,228.95 L271.39,229.09 L271.92,229.20 L272.45,229.29 L272.97,229.34 L273.50,229.37 L274.03,229.38 L274.55,229.36 L275.08,229.31 L275.60,229.24 L276.13,229.15 L276.66,229.04 L277.18,228.91 L277.71,228.76 L278.24,228.59 L278.76,228.40 L279.29,228.20 L279.82,227.98 L280.34,227.75 L280.87,227.50 L281.40,227.24 L281.92,226.97 L282.45,226.69 L282.97,226.39 L283.50,226.09 L284.03,225.79 L284.55,225.47 L285.08,225.15 L285.61,224.83 L286.13,224.50 L286.66,224.17 L287.19,223.83 L287.71,223.50 L288.24,223.16 L288.76,222.83 L289.29,222.50 L289.82,222.17 L290.34,221.84 L290.87,221.52 L291.40,221.21 L291.92,220.90 L292.45,220.59 L292.98,220.30 L293.50,220.01 L294.03,219.73 L294.55,219.46 L295.08,219.20 L295.61,218.96 L296.13,218.72 L296.66,218.50 L297.19,218.28 L297.71,218.09 L298.24,217.90 L298.77,217.73 L299.29,217.57 L299.82,217.43 L300.34,217.31 L300.87,217.20 L301.40,217.10 L301.92,217.03 L302.45,216.96 L302.98,216.92 L303.50,216.89 L304.03,216.88 L304.56,216.89 L305.08,216.92 L305.61,216.96 L306.13,217.02 L306.66,217.10 L307.19,217.20 L307.71,217.31 L308.24,217.45 L308.77,217.60 L309.29,217.77 L309.82,217.95 L310.35,218.16 L310.87,218.38 L311.40,218.62 L311.92,218.87 L312.45,219.15 L312.98,219.44 L313.50,219.74 L314.03,220.07 L314.56,220.41 L315.08,220.76 L315.61,221.14 L316.14,221.52 L316.66,221.92 L317.19,222.34 L317.71,222.77 L318.24,223.22 L318.77,223.68 L319.29,224.15 L319.82,224.63 L320.35,225.13 L320.87,225.64 L321.40,226.16 L321.93,226.69 L322.45,227.24 L322.98,227.79 L323.51,228.36 L324.03,228.93 L324.56,229.51 L325.08,230.10 L325.61,230.70 L326.14,231.31 L326.66,231.93 L327.19,232.55 L327.72,233.18 L328.24,233.81 L328.77,234.45 L329.30,235.10 L329.82,235.75 L330.35,236.41 L330.87,237.06 L331.40,237.73 L331.93,238.39 L332.45,239.06 L332.98,239.73 L333.51,240.40 L334.03,241.08 L334.56,241.75 L335.09,242.43 L335.61,243.10 L336.14,243.78 L336.66,244.46 L337.19,245.13 L337.72,245.80 L338.24,246.48 L338.77,247.15 L339.30,247.81 L339.82,248.48 L340.35,249.14 L340.88,249.80 L341.40,250.46 L341.93,251.11 L342.45,251.76 L342.98,252.41 L343.51,253.05 L344.03,253.68 L344.56,254.31 L345.09,254.94 L345.61,255.56 L346.14,256.17 L346.67,256.78 L347.19,257.39 L347.72,257.98 L348.24,258.57 L348.77,259.16 L349.30,259.74 L349.82,260.31 L350.35,260.87 L350.88,261.43 L351.40,261.98 L351.93,262.52 L352.46,263.06 L352.98,263.59 L353.51,264.11 L354.03,264.62 L354.56,265.13 L355.09,265.63 L355.61,266.12 L356.14,266.60 L356.67,267.08 L357.19,267.54 L357.72,268.00 L358.25,268.46 L358.77,268.90 L359.30,269.34 L359.82,269.76 L360.35,270.18 L360.88,270.60 L361.40,271.00 L361.93,271.40 L362.46,271.79 L362.98,272.17 L363.51,272.54 L364.04,272.91 L364.56,273.27 L365.09,273.62 L365.62,273.96 L366.14,274.30 L366.67,274.63 L367.19,274.95 L367.72,275.26 L368.25,275.57 L368.77,275.87 L369.30,276.17 L369.83,276.45 L370.35,276.73 L370.88,277.01 L371.41,277.27 L371.93,277.53 L372.46,277.79 L372.98,278.03 L373.51,278.27 L374.04,278.51 L374.56,278.74 L375.09,278.96 L375.62,279.18 L376.14,279.39 L376.67,279.59 L377.20,279.79 L377.72,279.99 L378.25,280.18 L378.77,280.36 L379.30,280.54 L379.83,280.71 L380.35,280.88 L380.88,281.04 L381.41,281.20 L381.93,281.36 L382.46,281.51 L382.99,281.65 L383.51,281.79 L384.04,281.93 L384.56,282.06 L385.09,282.19 L385.62,282.31 L386.14,282.43 L386.67,282.55 L387.20,282.66 L387.72,282.77 L388.25,282.88 L388.78,282.98 L389.30,283.08 L389.83,283.18 L390.35,283.27 L390.88,283.36 L391.41,283.44 L391.93,283.53 L392.46,283.61 L392.99,283.69 L393.51,283.76 L394.04,283.83 L394.57,283.90 L395.09,283.97 L395.62,284.04 L396.14,284.10 L396.67,284.16 L397.20,284.22 L397.72,284.28 L398.25,284.33 L398.78,284.38 L399.30,284.43 L399.83,284.48 L400.36,284.53 L400.88,284.57 L401.41,284.62 L401.93,284.66 L402.46,284.70 L402.99,284.74 L403.51,284.77 L404.04,284.81 L404.57,284.84 L405.09,284.88 L405.62,284.91 L406.15,284.94 L406.67,284.97 L407.20,285.00 L407.73,285.02 L408.25,285.05 L408.78,285.07 L409.30,285.10 L409.83,285.12 L410.36,285.14 L410.88,285.16 L411.41,285.18 L411.94,285.20 L412.46,285.22 L412.99,285.24 L413.52,285.25 L414.04,285.27 L414.57,285.29 L415.09,285.30 L415.62,285.31 L416.15,285.33 L416.67,285.34 L417.20,285.35 L417.73,285.37 L418.25,285.38 L418.78,285.39 L419.31,285.40 L419.83,285.41 L420.36,285.42 L420.88,285.43 L421.41,285.43 L421.94,285.44 L422.46,285.45 L422.99,285.46 L423.52,285.47 L424.04,285.47 L424.57,285.48 L425.10,285.48 L425.62,285.49 L426.15,285.50 L426.67,285.50 L427.20,285.51 L427.73,285.51 L428.25,285.52 L428.78,285.52"/>
</g>
<g stroke="#111" stroke-width="1.5">
<line x1="0.9" y1="285.6" x2="435.7" y2="285.6"/>
<line x1="218.18" y1="30" x2="218.18" y2="298.4"/>
</g>
<g stroke="#222" stroke-width="0.8">
<line x1="9.28" y1="285.60" x2="9.28" y2="283.10"/>
<line x1="30.17" y1="285.60" x2="30.17" y2="283.10"/>
<line x1="51.06" y1="285.60" x2="51.06" y2="281.20"/>
<line x1="71.95" y1="285.60" x2="71.95" y2="283.10"/>
<line x1="92.84" y1="285.60" x2="92.84" y2="283.10"/>
<line x1="113.73" y1="285.60" x2="113.73" y2="283.10"/>
<line x1="134.62" y1="285.60" x2="134.62" y2="281.20"/>
<line x1="155.51" y1="285.60" x2="155.51" y2="283.10"/>
<line x1="176.40" y1="285.60" x2="176.40" y2="283.10"/>
<line x1="197.29" y1="285.60" x2="197.29" y2="283.10"/>
<line x1="239.07" y1="285.60" x2="239.07" y2="283.10"/>
<line x1="259.96" y1="285.60" x2="259.96" y2="283.10"/>
<line x1="280.85" y1="285.60" x2="280.85" y2="283.10"/>
<line x1="301.74" y1="285.60" x2="301.74" y2="281.20"/>
<line x1="322.63" y1="285.60" x2="322.63" y2="283.10"/>
<line x1="343.52" y1="285.60" x2="343.52" y2="283.10"/>
<line x1="364.41" y1="285.60" x2="364.41" y2="283.10"/>
<line x1="385.30" y1="285.60" x2="385.30" y2="281.20"/>
<line x1="406.19" y1="285.60" x2="406.19" y2="283.10"/>
<line x1="427.08" y1="285.60" x2="427.08" y2="283.10"/>
<line x1="218.18" y1="292.97" x2="220.98" y2="292.97"/>
<line x1="218.18" y1="278.23" x2="220.98" y2="278.23"/>
<line x1="218.18" y1="270.87" x2="220.98" y2="270.87"/>
<line x1="218.18" y1="263.50" x2="220.98" y2="263.50"/>
<line x1="218.18" y1="256.14" x2="220.98" y2="256.14"/>
<line x1="218.18" y1="248.77" x2="222.78" y2="248.77"/>
<line x1="218.18" y1="241.40" x2="220.98" y2="241.40"/>
<line x1="218.18" y1="234.04" x2="220.98" y2="234.04"/>
<line x1="218.18" y1="226.67" x2="220.98" y2="226.67"/>
<line x1="218.18" y1="219.31" x2="220.98" y2="219.31"/>
<line x1="218.18" y1="211.94" x2="222.78" y2="211.94"/>
<line x1="218.18" y1="204.57" x2="220.98" y2="204.57"/>
<line x1="218.18" y1="197.21" x2="220.98" y2="197.21"/>
<line x1="218.18" y1="189.84" x2="220.98" y2="189.84"/>
<line x1="218.18" y1="182.48" x2="220.98" y2="182.48"/>
<line x1="218.18" y1="175.11" x2="222.78" y2="175.11"/>
<line x1="218.18" y1="167.74" x2="220.98" y2="167.74"/>
<line x1="218.18" y1="160.38" x2="220.98" y2="160.38"/>
<line x1="218.18" y1="153.01" x2="220.98" y2="153.01"/>
<line x1="218.18" y1="145.65" x2="220.98" y2="145.65"/>
<line x1="218.18" y1="138.28" x2="222.78" y2="138.28"/>
<line x1="218.18" y1="130.91" x2="220.98" y2="130.91"/>
<line x1="218.18" y1="123.55" x2="220.98" y2="123.55"/>
<line x1="218.18" y1="116.18" x2="220.98" y2="116.18"/>
<line x1="218.18" y1="108.82" x2="220.98" y2="108.82"/>
<line x1="218.18" y1="101.45" x2="222.78" y2="101.45"/>
<line x1="218.18" y1="94.08" x2="220.98" y2="94.08"/>
<line x1="218.18" y1="86.72" x2="220.98" y2="86.72"/>
<line x1="218.18" y1="79.35" x2="220.98" y2="79.35"/>
<line x1="218.18" y1="71.99" x2="220.98" y2="71.99"/>
<line x1="218.18" y1="64.62" x2="222.78" y2="64.62"/>
<line x1="218.18" y1="57.25" x2="220.98" y2="57.25"/>
<line x1="218.18" y1="49.89" x2="220.98" y2="49.89"/>
<line x1="218.18" y1="42.52" x2="220.98" y2="42.52"/>
<line x1="218.18" y1="35.16" x2="220.98" y2="35.16"/>
</g>
<text class="mono" x="213.8" y="253.92" text-anchor="end">0.1</text>
<line x1="188.9" y1="250.77" x2="194.3" y2="246.87" stroke="#000" stroke-width="1.1"/>
<text class="mono" x="213.8" y="217.09" text-anchor="end">0.2</text>
<line x1="188.9" y1="213.94" x2="194.3" y2="210.04" stroke="#000" stroke-width="1.1"/>
<text class="mono" x="213.8" y="180.26" text-anchor="end">0.3</text>
<line x1="188.9" y1="177.11" x2="194.3" y2="173.21" stroke="#000" stroke-width="1.1"/>
<text class="mono" x="213.8" y="143.43" text-anchor="end">0.4</text>
<line x1="188.9" y1="140.28" x2="194.3" y2="136.38" stroke="#000" stroke-width="1.1"/>
<text class="mono" x="213.8" y="106.60" text-anchor="end">0.5</text>
<line x1="188.9" y1="103.45" x2="194.3" y2="99.55" stroke="#000" stroke-width="1.1"/>
<text class="mono" x="213.8" y="69.77" text-anchor="end">0.6</text>
<line x1="188.9" y1="66.62" x2="194.3" y2="62.72" stroke="#000" stroke-width="1.1"/>
<line x1="42.56" y1="300.2" x2="48.96" y2="300.2" stroke="#333" stroke-width="0.9"/>
<text class="sans" x="56.96" y="304.45" text-anchor="middle">4</text>
<line x1="126.12" y1="300.2" x2="132.52" y2="300.2" stroke="#333" stroke-width="0.9"/>
<text class="sans" x="140.52" y="304.45" text-anchor="middle">2</text>
<text class="sans" x="302.04" y="304.45" text-anchor="middle">2</text>
<text class="sans" x="385.60" y="304.45" text-anchor="middle">4</text>
<text class="title" transform="translate(201.75,17.2) scale(1.05,1.1)" text-anchor="middle" font-size="17.9" stroke-width="0.1">f</text>
<text class="paren" transform="translate(213.9,17.3) scale(1,0.975)" text-anchor="middle">(</text>
<text class="title" x="223.5" y="17.15" text-anchor="middle" font-size="18.2">v</text>
<text class="paren" transform="translate(233.0,17.3) scale(1,0.975)" text-anchor="middle">)</text>
<text class="title" x="451.4" y="291.35" text-anchor="middle" font-size="18.2">v</text>
<g fill="none" stroke-width="3.3">
<line stroke="#000" x1="291.8" y1="53.5" x2="342.1" y2="53.5"/>
<line stroke="#00f" stroke-dasharray="8.3 1.9" x1="291.8" y1="80.8" x2="340.9" y2="80.8"/>
<line stroke="#f00" stroke-dasharray="4.2 2.1 8.3 2.1" x1="291.8" y1="108.2" x2="339.5" y2="108.2"/>
</g>
<text class="leg" font-style="italic" transform="translate(351.7,58.65) scale(1.17,1.03)">α</text>
<text class="leg" x="367.2" y="60.05">=</text>
<text class="leg" x="381.2" y="58.65" letter-spacing="0.5">0</text>
<text class="leg" font-style="italic" transform="translate(351.7,85.9) scale(1.17,1.03)">α</text>
<text class="leg" x="367.2" y="87.30">=</text>
<text class="leg" x="381.2" y="85.9" letter-spacing="0.5">0.2</text>
<text class="leg" font-style="italic" transform="translate(351.7,113.6) scale(1.17,1.03)">α</text>
<text class="leg" x="367.2" y="115.00">=</text>
<text class="leg" x="381.2" y="113.6" letter-spacing="0.5">0.4</text>
</svg>
</body></html>
